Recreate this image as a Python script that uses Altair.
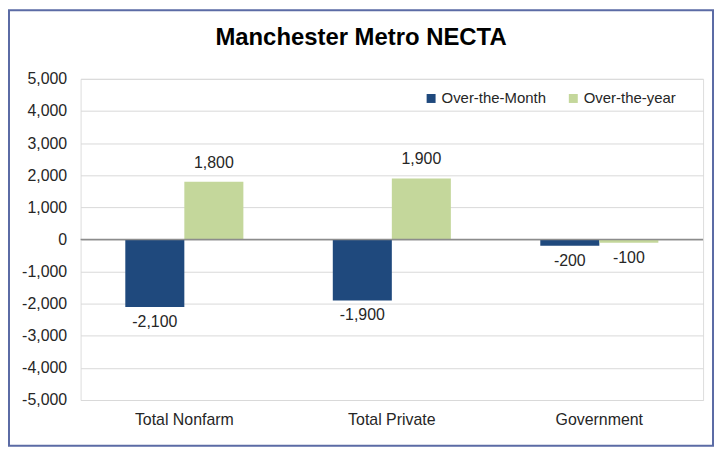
import altair as alt
import pandas as pd

categories = ["Total Nonfarm", "Total Private", "Government"]
series = ["Over-the-Month", "Over-the-year"]
over_the_month = [-2100, -1900, -200]
over_the_year = [1800, 1900, -100]
y_ticks = [-5000, -4000, -3000, -2000, -1000, 0, 1000, 2000, 3000, 4000, 5000]
zero_line = [0]
colors = ["#1F497D", "#C4D79B"]
title_text = "Manchester Metro NECTA"

rows = []
for i, c in enumerate(categories):
    for s, vals in zip(series, [over_the_month, over_the_year]):
        v = vals[i]
        rows.append({"category": c, "series": s, "value": v, "label": f"{v:,}"})
df = pd.DataFrame(rows)

W, H = 626, 323
FONT = "Liberation Sans"
TXT = "#262626"

x_enc = alt.X(
    "category:N", sort=categories,
    scale=alt.Scale(paddingInner=0.431, paddingOuter=0.2155),
    axis=alt.Axis(title=None, labelAngle=0, ticks=False, domain=False,
                  labelFontSize=16, labelPadding=12, labelColor=TXT, labelFont=FONT),
)
xo_enc = alt.XOffset("series:N", sort=series,
                     scale=alt.Scale(paddingInner=0, paddingOuter=0))
y_enc = alt.Y(
    "value:Q",
    scale=alt.Scale(domain=[-5000, 5000], nice=False),
    axis=alt.Axis(title=None, values=y_ticks, tickCount=11, grid=True,
                  gridColor="#D9D9D9", gridWidth=1, domain=False, ticks=False,
                  labelFontSize=16, labelPadding=14, labelColor=TXT,
                  labelFont=FONT, labelOverlap=False,
                  labelExpr="replace(format(datum.value, ','), '\u2212', '-')"),
)

base = alt.Chart(df)

bars = base.mark_bar().encode(
    x=x_enc, xOffset=xo_enc, y=y_enc,
    color=alt.Color(
        "series:N", sort=series,
        scale=alt.Scale(domain=series, range=colors),
        legend=alt.Legend(title=None, orient="none", legendX=345, legendY=12,
                          direction="horizontal", symbolType="square",
                          symbolSize=81, symbolStrokeWidth=0, labelFontSize=15,
                          labelOffset=3, columnPadding=19, padding=0,
                          labelColor=TXT, labelFont=FONT),
    ),
)

zero = alt.Chart(pd.DataFrame({"value": zero_line})).mark_rule(
    color="#8C8C8C", strokeWidth=1.5
).encode(y=y_enc)

pos = base.transform_filter("datum.value >= 0").mark_text(
    baseline="alphabetic", dy=-14, fontSize=16, color=TXT, font=FONT
).encode(x=x_enc, xOffset=xo_enc, y=y_enc, text="label:N")

neg = base.transform_filter("datum.value < 0").mark_text(
    baseline="alphabetic", dy=20, fontSize=16, color=TXT, font=FONT
).encode(x=x_enc, xOffset=xo_enc, y=y_enc, text="label:N")

border = alt.Chart(pd.DataFrame({"b": [0]})).mark_rect(
    filled=False, stroke="#5B6BA5", strokeWidth=2
).encode(x=alt.value(-72), x2=alt.value(636), y=alt.value(-69), y2=alt.value(369))

chart = alt.layer(border, bars, zero, pos, neg).properties(
    width=W, height=H,
    title=alt.TitleParams(title_text, fontSize=24, font=FONT, fontWeight="bold",
                          anchor="middle", frame="bounds", baseline="alphabetic",
                          offset=0, dy=60, color="#000000"),
    autosize=alt.AutoSizeParams(type="none"),
    padding={"left": 73, "top": 70, "right": 12, "bottom": 48},
    background="white",
).configure_view(stroke="#D9D9D9", strokeWidth=1).configure(font=FONT)

chart.save("out.html", embed_options={"renderer": "svg", "actions": False})
